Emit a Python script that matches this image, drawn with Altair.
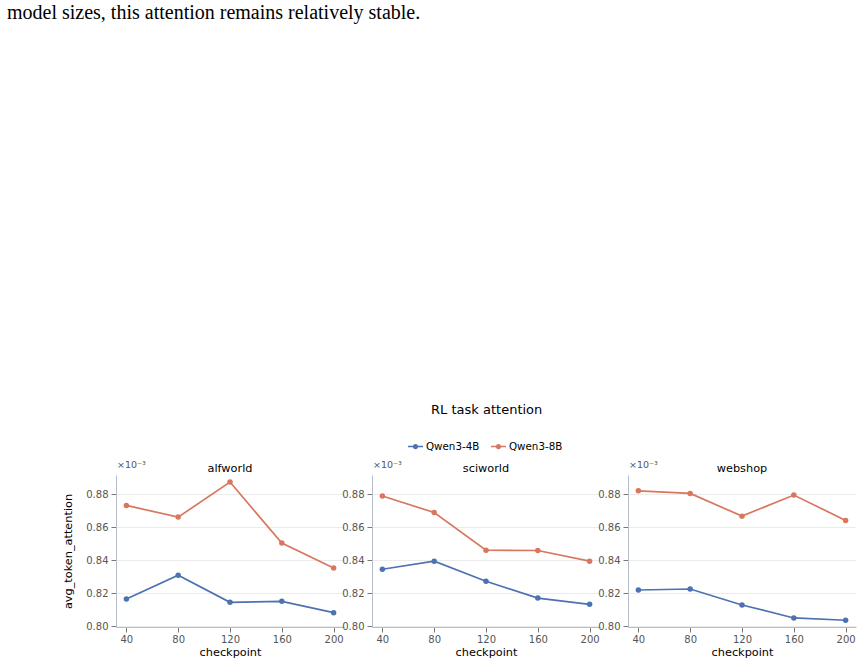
import altair as alt
import pandas as pd

# ---- data ----
checkpoints = [40, 80, 120, 160, 200]
tasks = ["alfworld", "sciworld", "webshop"]
models = ["Qwen3-4B", "Qwen3-8B"]
colors = ["#4C72B0", "#D8775F"]

alfworld_4b = [0.8164, 0.8309, 0.8144, 0.8150, 0.8081]
alfworld_8b = [0.8733, 0.8662, 0.8875, 0.8504, 0.8353]
sciworld_4b = [0.8345, 0.8394, 0.8272, 0.8170, 0.8132]
sciworld_8b = [0.8790, 0.8690, 0.8461, 0.8459, 0.8394]
webshop_4b = [0.8219, 0.8225, 0.8128, 0.8049, 0.8035]
webshop_8b = [0.8822, 0.8806, 0.8668, 0.8796, 0.8642]

y_ticks = [0.80, 0.82, 0.84, 0.86, 0.88]
caption = "model sizes, this attention remains relatively stable."
main_title = "RL task attention"
y_title = "avg_token_attention"
x_title = "checkpoint"
scale_note = "×10⁻³"

series = {
    ("alfworld", "Qwen3-4B"): alfworld_4b,
    ("alfworld", "Qwen3-8B"): alfworld_8b,
    ("sciworld", "Qwen3-4B"): sciworld_4b,
    ("sciworld", "Qwen3-8B"): sciworld_8b,
    ("webshop", "Qwen3-4B"): webshop_4b,
    ("webshop", "Qwen3-8B"): webshop_8b,
}
rows = []
for (task, model), vals in series.items():
    for c, v in zip(checkpoints, vals):
        rows.append({"task": task, "model": model, "checkpoint": c, "value": v})
df = pd.DataFrame(rows)

W, H = 228, 152
FONT = "DejaVu Sans"
LEGEND_PATH = ("M-1,-0.1L1,-0.1L1,0.1L-1,0.1Z "
               "M0.36,0A0.36,0.36,0,1,1,-0.36,0A0.36,0.36,0,1,1,0.36,0Z")

legend = alt.Legend(orient="none", legendX=292, legendY=-36, direction="horizontal",
                    title=None, symbolType=LEGEND_PATH, symbolSize=225,
                    symbolOpacity=1, symbolStrokeWidth=0,
                    labelFont=FONT, labelFontSize=10.3, labelColor="black",
                    labelOffset=3, columnPadding=11, padding=0)


def panel(i, task):
    base = alt.Chart(df).transform_filter(alt.datum.task == task)
    x = alt.X("checkpoint:Q",
              scale=alt.Scale(domain=[32, 208], nice=False, zero=False),
              axis=alt.Axis(values=checkpoints, title=x_title, grid=False, format="d"))
    yaxis = dict(values=y_ticks, format=".2f", grid=True)
    if i == 0:
        yaxis["title"] = y_title
    else:
        yaxis["title"] = None
    y = alt.Y("value:Q",
              scale=alt.Scale(domain=[0.7994, 0.8918], nice=False, zero=False),
              axis=alt.Axis(**yaxis))
    cscale = alt.Scale(domain=models, range=colors)
    lines = [
        base.transform_filter(alt.datum.model == m).mark_line(strokeWidth=1.7, color=c).encode(x=x, y=y)
        for m, c in zip(models, colors)
    ]
    pts = base.mark_point(filled=True, size=30, opacity=1).encode(
        x=x, y=y, color=alt.Color("model:N", scale=cscale, legend=legend))
    note = alt.Chart(pd.DataFrame({"t": [scale_note]})).mark_text(
        align="left", baseline="middle", font=FONT, fontSize=9.5, color="#555555"
    ).encode(x=alt.value(1), y=alt.value(-10), text="t:N")
    ptitle = alt.Chart(pd.DataFrame({"t": [task]})).mark_text(
        align="center", baseline="middle", font=FONT, fontSize=11.3, color="black"
    ).encode(x=alt.value(W / 2), y=alt.value(-6.5), text="t:N")
    layers = lines + [pts, note, ptitle]
    if i == 0:
        cap = alt.Chart(pd.DataFrame({"t": [caption]})).mark_text(
            align="left", baseline="top", font="Liberation Serif", fontSize=20, color="black"
        ).encode(x=alt.value(-109), y=alt.value(-472), text="t:N")
        mt = alt.Chart(pd.DataFrame({"t": [main_title]})).mark_text(
            align="center", baseline="middle", font=FONT, fontSize=13, color="black"
        ).encode(x=alt.value(370.7), y=alt.value(-65), text="t:N")
        layers += [cap, mt]
    return alt.layer(*layers).properties(width=W, height=H)


chart = alt.hconcat(*[panel(i, t) for i, t in enumerate(tasks)], spacing=28, bounds="flush").properties(
    padding={"left": 7, "top": 3, "right": 5, "bottom": 5}
).configure_view(stroke=None).configure_axis(
    labelFont=FONT, labelFontSize=10, labelColor="#555555", labelPadding=3,
    titleFont=FONT, titleFontSize=11.3, titleFontWeight="normal", titleColor="black",
    domainColor="#b6bdca", domainWidth=1, tickColor="#555555", tickSize=5, tickWidth=0.8,
    gridColor="#e6e6e6", gridWidth=0.8,
).configure_axisX(titlePadding=2, labelPadding=2).configure_axisY(titlePadding=12)

chart.save("out.html", embed_options={"renderer": "svg", "actions": False})
